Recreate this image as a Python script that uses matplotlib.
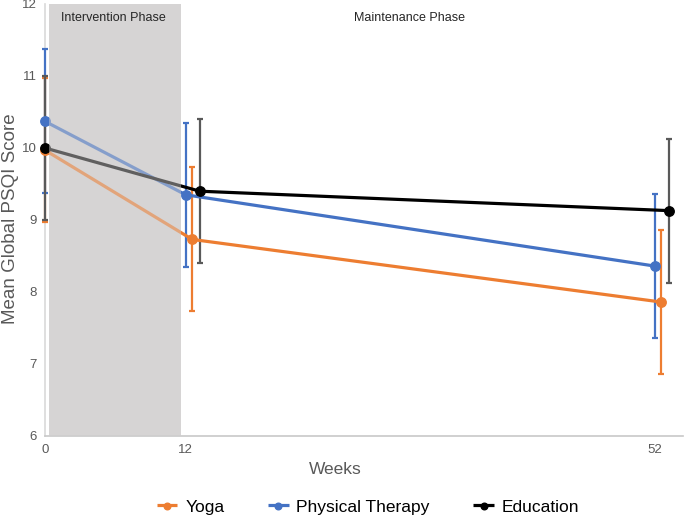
import matplotlib
matplotlib.use("Agg")
import matplotlib.pyplot as plt
import numpy as np

plt.rcParams['font.family'] = ['Liberation Sans', 'DejaVu Sans']

weeks = [0, 12, 52]
series_names = ["Yoga", "Physical Therapy", "Education"]
yoga = [9.97, 8.73, 7.86]
yoga_err = [1.0, 1.0, 1.0]
pt = [10.37, 9.35, 8.36]
pt_err = [1.0, 1.0, 1.0]
edu = [10.0, 9.40, 9.13]
edu_err = [1.0, 1.0, 1.0]
yticks = [6, 7, 8, 9, 10, 11, 12]
xticks = [0, 12, 52]

fig = plt.figure(figsize=(6.85, 5.16), dpi=100)
ax = fig.add_axes([45/685, 1-436/516, (683-45)/685, (436-4)/516])

shade_color = '#d6d4d4'
ax.axvspan(0.36, 11.6, color=shade_color, zorder=0, lw=0)

styles = [
    (yoga, yoga_err, '#ed7d31', '#ed7d31', '#ed7d31', 0.56),
    (pt, pt_err, '#4472c4', '#4472c4', '#4472c4', 0.0),
    (edu, edu_err, '#000000', '#000000', '#595959', 1.2),
]
w = np.array(weeks, dtype=float)
handles = []
for i, (vals, err, lc, mc, ec, off) in enumerate(styles):
    x = w + off * (w > 0)
    eb = ax.errorbar(x, vals, yerr=err, fmt='none', ecolor=ec, elinewidth=1.6,
                     capsize=2.4, capthick=1.6, zorder=2.6 + i * 0.1)
    for art in eb.lines[1] + eb.lines[2]:
        art.set_clip_on(False)
    h, = ax.plot(x, vals, color=lc, lw=2.3, marker='o', ms=6.8,
                 markerfacecolor=mc, markeredgecolor=mc, zorder=3 + i * 0.1,
                 solid_capstyle='butt', clip_on=False)
    handles.append(h)

# lighten line segments inside the shaded phase
ax.axvspan(0.36, 11.6, color=shade_color, alpha=0.45, zorder=4, lw=0)

ax.set_xlim(0, 54.4)
ax.set_ylim(6, 12)
ax.set_yticks(yticks)
ax.set_xticks(xticks)
ax.tick_params(axis='both', length=0, labelsize=9.5, colors='#595959')
ax.tick_params(axis='y', pad=6)
ax.tick_params(axis='x', pad=6)
for s in ['top', 'right']:
    ax.spines[s].set_visible(False)
ax.spines['left'].set_color('#d9d9d9')
ax.spines['bottom'].set_color('#c8c8c8')
ax.spines['left'].set_linewidth(1.2)
ax.spines['bottom'].set_linewidth(1.2)
ax.spines['left'].set_zorder(1)

fig.text(11/685, 1-219/516, 'Mean Global PSQI Score', rotation=90,
         ha='center', va='center', fontsize=13.5, color='#595959')
fig.text(335/685, 1-469/516, 'Weeks', ha='center', va='center',
         fontsize=12.5, color='#595959')

ax.text(113/685, 1-18/516, 'Intervention Phase', transform=fig.transFigure,
        ha='center', va='center', fontsize=9, color='#262626', zorder=6)
ax.text(409/685, 1-18/516, 'Maintenance Phase', transform=fig.transFigure,
        ha='center', va='center', fontsize=9, color='#262626', zorder=6)

leg = fig.legend(handles, series_names, loc='center', bbox_to_anchor=(368/685, 1-507/516),
                 ncol=3, frameon=False, fontsize=12.5, handlelength=1.2,
                 columnspacing=2.5, handletextpad=0.45, markerscale=0.7)

fig.savefig('out.png', dpi=100)
